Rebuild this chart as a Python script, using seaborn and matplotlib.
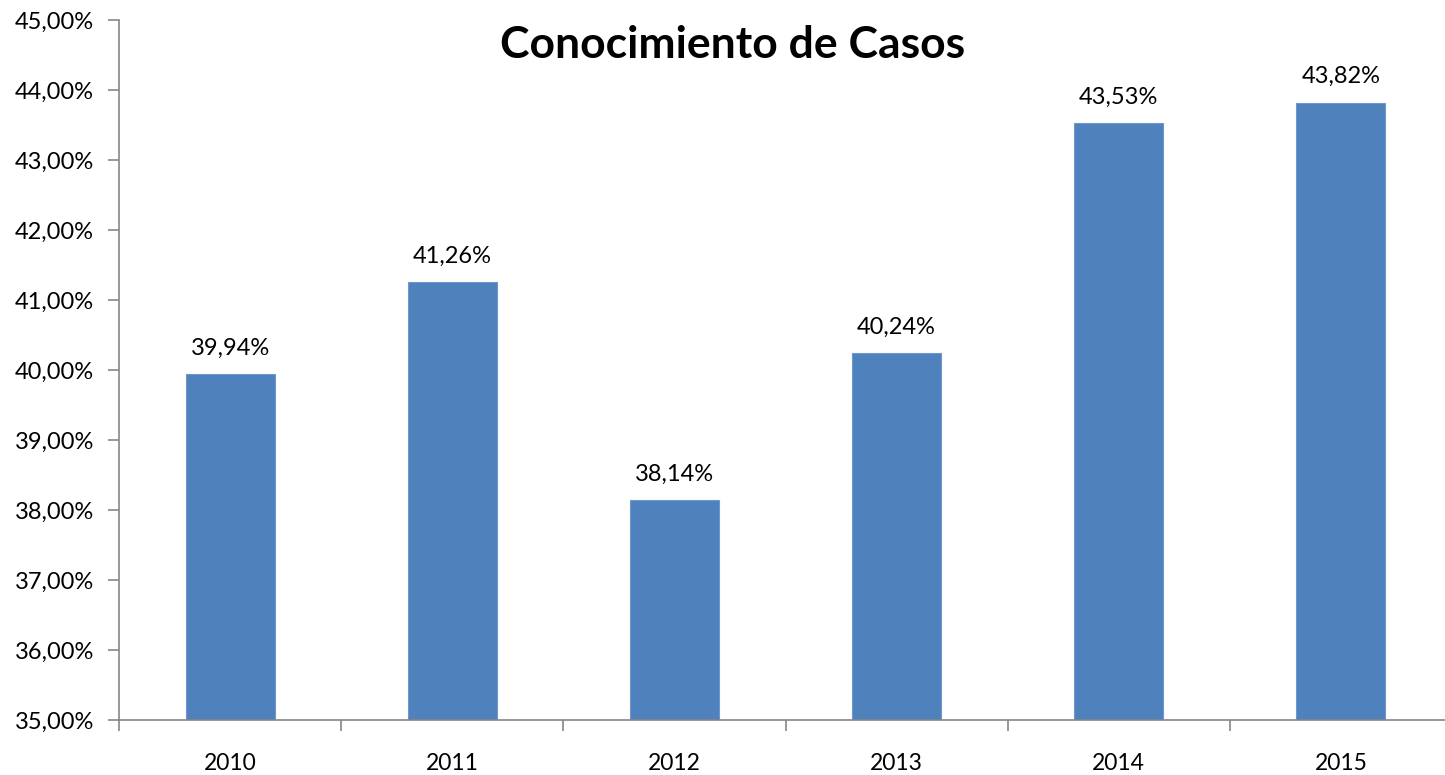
import matplotlib
matplotlib.use("Agg")
import matplotlib.pyplot as plt
import seaborn as sns
import pandas as pd
import numpy as np
from matplotlib.ticker import FuncFormatter, FixedLocator

years = ["2010", "2011", "2012", "2013", "2014", "2015"]
values = [39.94, 41.26, 38.14, 40.24, 43.53, 43.82]
title = "Conocimiento de Casos"

sns.set_theme(style="white")
plt.rcParams['font.family'] = ['Lato', 'DejaVu Sans']
plt.rcParams['text.color'] = 'black'
plt.rcParams['xtick.color'] = 'black'
plt.rcParams['ytick.color'] = 'black'

df = pd.DataFrame({"year": years, "value": values})

fig = plt.figure(figsize=(14.45, 7.75), dpi=100)
ax = fig.add_axes([119/1445, 55/775, (1452-119)/1445, 700/775])

sns.barplot(data=df, x="year", y="value", color="#4F81BD", saturation=1,
            width=0.4, ax=ax, edgecolor="#6E98CB", linewidth=0.8)

ax.set_ylim(35, 45)
ax.set_xlim(-0.5, len(years) - 0.5)
ax.set_yticks(np.arange(35, 45.01, 1))
ax.yaxis.set_major_formatter(FuncFormatter(lambda v, p: f"{v:.2f}%".replace('.', ',')))
ax.set_xlabel("")
ax.set_ylabel("")

for s in ["top", "right"]:
    ax.spines[s].set_visible(False)
for s in ["left", "bottom"]:
    ax.spines[s].set_color("#868686")
    ax.spines[s].set_linewidth(1.2)

ax.tick_params(axis="y", which="major", length=8, width=1.2, color="#868686",
               labelcolor="black", direction="out", labelsize=17, pad=10, left=True)
ax.tick_params(axis="x", which="major", length=0, labelsize=16.5, pad=24,
               labelcolor="black")
ax.xaxis.set_minor_locator(FixedLocator(np.arange(-0.5, len(years), 1.0)))
ax.tick_params(axis="x", which="minor", length=8, width=1.2, color="#868686",
               direction="out", bottom=True)

for i, v in enumerate(values):
    ax.annotate(f"{v:.2f}%".replace('.', ','), (i, v), xytext=(0, 11),
                textcoords="offset points", ha="center", va="bottom",
                fontsize=17, color="black")

fig.text(733/1445, 1 - 45/775, title, ha="center", va="center",
         fontsize=32, fontweight="bold", color="black")

fig.savefig("out.png", dpi=100)
